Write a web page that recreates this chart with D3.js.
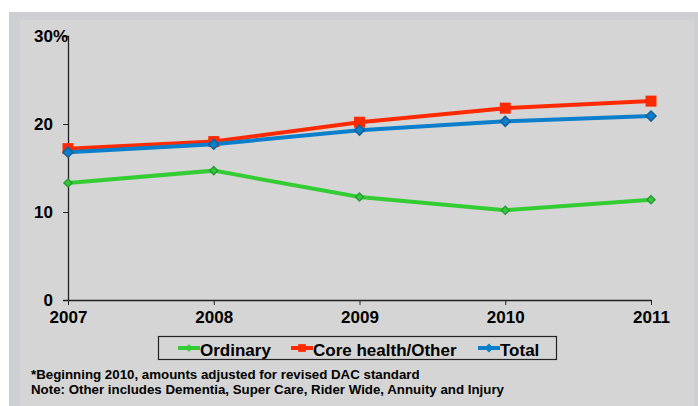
<!DOCTYPE html>
<html>
<head>
<meta charset="utf-8">
<script src="https://cdn.jsdelivr.net/npm/d3@7"></script>
<style>
  body { margin: 0; background: #fff; }
  svg { display: block; font-family: "Liberation Sans", Arial, sans-serif; }
</style>
</head>
<body>
<svg id="chart" width="698" height="406"></svg>
<script>
// data
const years = ["2007", "2008", "2009", "2010", "2011"];
const ordinary = [13.3, 14.7, 11.7, 10.2, 11.4];
const coreHealth = [17.2, 18.0, 20.2, 21.8, 22.6];
const total = [16.8, 17.7, 19.3, 20.3, 20.9];
const yTicks = [0, 10, 20, 30];
const seriesNames = ["Ordinary", "Core health/Other", "Total"];
const notes = [
    "*Beginning 2010, amounts adjusted for revised DAC standard",
    "Note: Other includes Dementia, Super Care, Rider Wide, Annuity and Injury"
];

const svg = d3.select("#chart");

// background panels
svg.append("rect").attr("x", 9).attr("y", 12).attr("width", 689).attr("height", 394).attr("fill", "#cdcfd2");
svg.append("rect").attr("x", 20).attr("y", 20).attr("width", 674).attr("height", 386).attr("fill", "#d5d5d5");

const margin = { left: 68, right: 47, top: 36, bottom: 106 },
    width = 698 - margin.left - margin.right,
    height = 406 - margin.top - margin.bottom;

const g = svg.append("g").attr("transform", "translate(" + margin.left + "," + margin.top + ")");

const xScale = d3.scalePoint().domain(years).range([0, width]);
const yScale = d3.scaleLinear().domain([0, 30]).range([height, 0]);

// axes
const yAxis = g.append("g")
    .call(d3.axisLeft(yScale).tickValues(yTicks).tickSize(5).tickPadding(10).tickFormat(d => d === 30 ? "30%" : d));
yAxis.select(".domain").attr("stroke", "#222").attr("stroke-width", 1.3);
yAxis.selectAll(".tick line").attr("stroke", "#222");
yAxis.selectAll(".tick").filter(d => d === 30).select("line").remove();
yAxis.selectAll("text")
    .attr("font-size", 17).attr("font-weight", "bold").attr("fill", "#000")
    .attr("font-family", "Liberation Sans, Arial, sans-serif");
yAxis.selectAll(".tick").filter(d => d === 30).select("text")
    .attr("text-anchor", "start").attr("x", -34);

const xAxis = g.append("g")
    .attr("transform", "translate(0," + height + ")")
    .call(d3.axisBottom(xScale).tickSize(5).tickSizeOuter(0).tickPadding(6));
xAxis.select(".domain").attr("stroke", "#222").attr("stroke-width", 1.3);
xAxis.selectAll(".tick line").attr("stroke", "#222");
xAxis.selectAll("text")
    .attr("font-size", 17).attr("font-weight", "bold").attr("fill", "#000")
    .attr("font-family", "Liberation Sans, Arial, sans-serif");

// series
const series = [
    { name: seriesNames[0], values: ordinary, color: "#33cc33", edge: "#2a9a3a", shape: "diamond", size: 8 },
    { name: seriesNames[1], values: coreHealth, color: "#ff2a00", edge: "#ff2a00", shape: "square", size: 11 },
    { name: seriesNames[2], values: total, color: "#0b7fcb", edge: "#15609a", shape: "diamond", size: 10 }
];

const line = d3.line()
    .x((d, i) => xScale(years[i]))
    .y(d => yScale(d));

function marker(sel, s, x, y) {
    const r = s.size / 2;
    if (s.shape === "square") {
        sel.append("rect")
            .attr("x", x - r).attr("y", y - r)
            .attr("width", s.size).attr("height", s.size)
            .attr("fill", s.color);
    } else {
        sel.append("path")
            .attr("d", "M" + x + "," + (y - r) + "L" + (x + r) + "," + y + "L" + x + "," + (y + r) + "L" + (x - r) + "," + y + "Z")
            .attr("fill", s.color)
            .attr("stroke", s.edge)
            .attr("stroke-width", 1.5);
    }
}

series.forEach(function (s) {
    const sg = g.append("g");
    sg.append("path")
        .datum(s.values)
        .attr("d", line)
        .attr("fill", "none")
        .attr("stroke", s.color)
        .attr("stroke-width", 4);
    s.values.forEach((v, i) => marker(sg, s, xScale(years[i]), yScale(v)));
});

// legend
const legend = svg.append("g");
legend.append("rect")
    .attr("x", 158.5).attr("y", 336.5).attr("width", 398).attr("height", 23)
    .attr("fill", "none").attr("stroke", "#222").attr("stroke-width", 1.2);
const legendX = [178, 291, 478];
series.forEach(function (s, i) {
    const x0 = legendX[i];
    const lg = legend.append("g");
    lg.append("line")
        .attr("x1", x0).attr("x2", x0 + 22).attr("y1", 348).attr("y2", 348)
        .attr("stroke", s.color).attr("stroke-width", 4);
    marker(lg, Object.assign({}, s, { size: s.size * 0.7, edge: s.color }), x0 + 11, 348);
    lg.append("text")
        .attr("x", x0 + 22).attr("y", 356)
        .attr("font-size", 17).attr("font-weight", "bold")
        .text(s.name);
});

// footnotes
svg.selectAll(".note")
    .data(notes)
    .enter()
    .append("text")
    .attr("class", "note")
    .attr("x", 31)
    .attr("y", (d, i) => 379 + i * 15)
    .attr("font-size", 13.3)
    .attr("font-weight", "bold")
    .text(d => d);
</script>
</body>
</html>
